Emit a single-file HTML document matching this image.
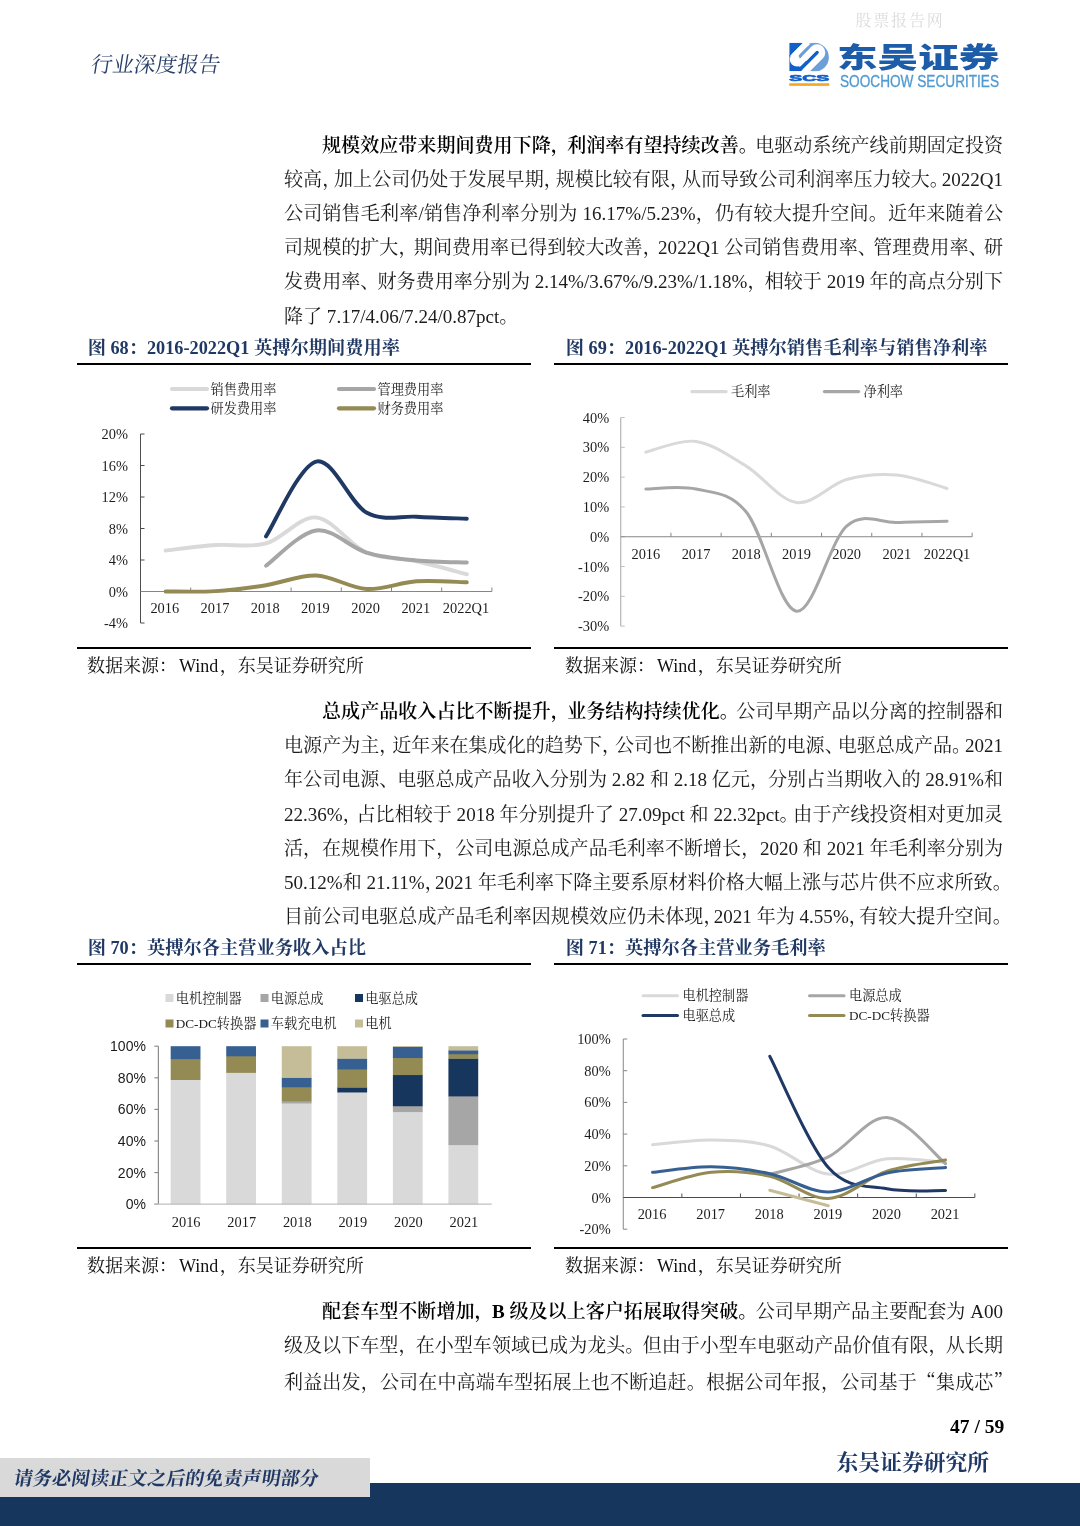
<!DOCTYPE html>
<html lang="zh-CN">
<head>
<meta charset="utf-8">
<title>行业深度报告</title>
<style>
html,body{margin:0;padding:0;background:#fff;}
body{width:1080px;height:1526px;position:relative;overflow:hidden;font-family:"Liberation Serif", "Noto Serif CJK SC", serif;color:#000;}
.abs{position:absolute;white-space:nowrap;}
.ln{position:absolute;height:34px;line-height:34px;font-size:19.06px;text-align:justify;text-align-last:justify;white-space:nowrap;overflow:visible;color:#1c1c1c;}
.ln.lst{text-align:left;text-align-last:left;}
.ln b{font-weight:600;color:#000;}
.pc{letter-spacing:var(--c,0px);}
.q{font-family:"Noto Serif CJK SC",serif;}
.qc{letter-spacing:-0.5em;}
.hdr{font-size:21.6px;line-height:30px;color:#2b416b;transform-origin:0 50%;transform:skewX(-9deg);}
.wm{font-size:16px;line-height:22px;color:#dcdcdc;letter-spacing:1.8px;}
.lgcn{font-family:"Liberation Sans","Noto Sans CJK SC",sans-serif;font-weight:900;font-size:28.6px;line-height:40px;color:#1c5ca8;transform-origin:0 0;transform:scaleX(1.42);}
.lgen{font-family:"Liberation Sans",sans-serif;font-size:15.8px;line-height:16px;color:#4f9ad3;transform-origin:0 0;transform:scaleX(0.863);-webkit-text-stroke:0.3px #4f9ad3;}
.ft{font-size:18.25px;line-height:26px;font-weight:700;color:#1f3864;}
.srcl{font-size:18px;line-height:26px;color:#111;}
.disc{font-size:19.06px;line-height:26px;font-weight:700;color:#1f3864;transform-origin:0 50%;transform:skewX(-9deg);}
.pgn{font-family:"Liberation Serif",serif;font-size:19.5px;line-height:24px;font-weight:700;color:#000;}
.inst{font-size:21.8px;line-height:30px;font-weight:700;color:#1f3864;}
</style>
</head>
<body>
<div id="L0" class="ln" style="left:322px;top:129px;width:681px;--c:-2.64px;"><b>规模效应带来期间费用下降<span class="pc">，</span>利润率有望持续改善<span class="pc">。</span></b>电驱动系统产线前期固定投资</div>
<div id="L1" class="ln" style="left:284px;top:163.1px;width:719px;--c:-7.17px;">较高<span class="pc">，</span>加上公司仍处于发展早期<span class="pc">，</span>规模比较有限<span class="pc">，</span>从而导致公司利润率压力较大<span class="pc">。</span>2022Q1</div>
<div id="L2" class="ln" style="left:284px;top:197.2px;width:719px;">公司销售毛利率/销售净利率分别为 16.17%/5.23%<span class="pc">，</span>仍有较大提升空间<span class="pc">。</span>近年来随着公</div>
<div id="L3" class="ln" style="left:284px;top:231.3px;width:719px;--c:-3.60px;">司规模的扩大<span class="pc">，</span>期间费用率已得到较大改善<span class="pc">，</span>2022Q1 公司销售费用率<span class="pc">、</span>管理费用率<span class="pc">、</span>研</div>
<div id="L4" class="ln" style="left:284px;top:265.4px;width:719px;--c:-1.89px;">发费用率<span class="pc">、</span>财务费用率分别为 2.14%/3.67%/9.23%/1.18%<span class="pc">，</span>相较于 2019 年的高点分别下</div>
<div id="L5" class="ln lst" style="left:284px;top:299.5px;width:719px;">降了 7.17/4.06/7.24/0.87pct<span class="pc">。</span></div>
<div id="L6" class="ln" style="left:322px;top:695px;width:681px;--c:-2.64px;"><b>总成产品收入占比不断提升<span class="pc">，</span>业务结构持续优化<span class="pc">。</span></b>公司早期产品以分离的控制器和</div>
<div id="L7" class="ln" style="left:284px;top:729.2px;width:719px;--c:-6.11px;">电源产为主<span class="pc">，</span>近年来在集成化的趋势下<span class="pc">，</span>公司也不断推出新的电源<span class="pc">、</span>电驱总成产品<span class="pc">。</span>2021</div>
<div id="L8" class="ln" style="left:284px;top:763.4px;width:719px;--c:-1.10px;">年公司电源<span class="pc">、</span>电驱总成产品收入分别为 2.82 和 2.18 亿元<span class="pc">，</span>分别占当期收入的 28.91%和</div>
<div id="L9" class="ln" style="left:284px;top:797.6px;width:719px;--c:-5.33px;">22.36%<span class="pc">，</span>占比相较于 2018 年分别提升了 27.09pct 和 22.32pct<span class="pc">。</span>由于产线投资相对更加灵</div>
<div id="L10" class="ln" style="left:284px;top:831.8px;width:719px;--c:-0.21px;">活<span class="pc">，</span>在规模作用下<span class="pc">，</span>公司电源总成产品毛利率不断增长<span class="pc">，</span>2020 和 2021 年毛利率分别为</div>
<div id="L11" class="ln" style="left:284px;top:866px;width:719px;--c:-8.68px;">50.12%和 21.11%<span class="pc">，</span>2021 年毛利率下降主要系原材料价格大幅上涨与芯片供不应求所致<span class="pc">。</span></div>
<div id="L12" class="ln" style="left:284px;top:900.2px;width:719px;--c:-8.67px;">目前公司电驱总成产品毛利率因规模效应仍未体现<span class="pc">，</span>2021 年为 4.55%<span class="pc">，</span>有较大提升空间<span class="pc">。</span></div>
<div id="L13" class="ln" style="left:322px;top:1295.2px;width:681px;--c:-1.60px;"><b>配套车型不断增加<span class="pc">，</span>B 级及以上客户拓展取得突破<span class="pc">。</span></b>公司早期产品主要配套为 A00</div>
<div id="L14" class="ln" style="left:284px;top:1329.4px;width:719px;--c:-1.79px;">级及以下车型<span class="pc">，</span>在小型车领域已成为龙头<span class="pc">。</span>但由于小型车电驱动产品价值有限<span class="pc">，</span>从长期</div>
<div id="L15" class="ln" style="left:284px;top:1363.6px;width:719px;">利益出发<span class="pc">，</span>公司在中高端车型拓展上也不断追赶<span class="pc">。</span>根据公司年报<span class="pc">，</span>公司基于<span class="q">“</span>集成芯<span class="q qc">”</span></div>
<div class="abs hdr" style="left:91px;top:49.5px;">行业深度报告</div>
<div class="abs wm" style="left:855.5px;top:10px;">股票报告网</div>
<svg class="abs" style="left:784px;top:38px;" width="54" height="54" viewBox="0 0 1080 1080">
<defs><clipPath id="lc"><rect x="105" y="95" width="800" height="570"/></clipPath></defs>
<g clip-path="url(#lc)">
<circle cx="605" cy="385" r="292" fill="#6c9fd7"/>
<polygon points="105,95 385,95 105,375" fill="#1160c9"/>
<polygon points="105,330 105,665 340,665 760,245 700,195 315,580" fill="#1160c9"/>
<path d="M475,85 L199,361 A89.1,89.1 0 0 0 325,487 L592,220" fill="none" stroke="#fff" stroke-width="118"/>
<path d="M400,412 L592,220 A99,99 0 0 1 732,360 L417,675" fill="none" stroke="#fff" stroke-width="131"/>
<line x1="322" y1="360" x2="480" y2="202" stroke="#6c9fd7" stroke-width="57" stroke-linecap="round"/>
</g>
<text x="105" y="860" font-family='"Liberation Sans",sans-serif' font-weight="700" font-size="196" fill="#1160c9" stroke="#1160c9" stroke-width="14" textLength="800" lengthAdjust="spacingAndGlyphs">SCS</text>
<rect x="105" y="905" width="800" height="52" fill="#f5a623"/>
</svg>
<div class="abs lgcn" style="left:837px;top:38px;">东吴证券</div>
<div class="abs lgen" style="left:839.5px;top:74px;">SOOCHOW SECURITIES</div>
<div class="abs ft" style="left:87.7px;top:335px;">图 68：2016-2022Q1 英搏尔期间费用率</div>
<div class="abs ft" style="left:565.8px;top:335px;">图 69：2016-2022Q1 英搏尔销售毛利率与销售净利率</div>
<div class="abs" style="left:77px;top:362.7px;width:453.6px;height:1.9px;background:#000;"></div>
<div class="abs" style="left:554.4px;top:362.7px;width:453.6px;height:1.9px;background:#000;"></div>
<div class="abs" style="left:77px;top:647.25px;width:453.6px;height:1.9px;background:#000;"></div>
<div class="abs" style="left:554.4px;top:647.25px;width:453.6px;height:1.9px;background:#000;"></div>
<div class="abs srcl" style="left:87px;top:652.6px;">数据来源：<span style="margin:0 1.5px 0 2px">Wind</span>，东吴证券研究所</div>
<div class="abs srcl" style="left:565px;top:652.6px;">数据来源：<span style="margin:0 1.5px 0 2px">Wind</span>，东吴证券研究所</div>
<div class="abs ft" style="left:87.7px;top:935px;">图 70：英搏尔各主营业务收入占比</div>
<div class="abs ft" style="left:565.8px;top:935px;">图 71：英搏尔各主营业务毛利率</div>
<div class="abs" style="left:77px;top:962.7px;width:453.6px;height:1.9px;background:#000;"></div>
<div class="abs" style="left:554.4px;top:962.7px;width:453.6px;height:1.9px;background:#000;"></div>
<div class="abs" style="left:77px;top:1247.25px;width:453.6px;height:1.9px;background:#000;"></div>
<div class="abs" style="left:554.4px;top:1247.25px;width:453.6px;height:1.9px;background:#000;"></div>
<div class="abs srcl" style="left:87px;top:1252.6px;">数据来源：<span style="margin:0 1.5px 0 2px">Wind</span>，东吴证券研究所</div>
<div class="abs srcl" style="left:565px;top:1252.6px;">数据来源：<span style="margin:0 1.5px 0 2px">Wind</span>，东吴证券研究所</div>
<div class="abs" style="left:0;top:1482.5px;width:1080px;height:44px;background:#17365d;"></div>
<div class="abs" style="left:0;top:1457.5px;width:370px;height:39.5px;background:#d9d9d9;"></div>
<div class="abs disc" style="left:14px;top:1466px;">请务必阅读正文之后的免责声明部分</div>
<div class="abs pgn" style="left:950px;top:1415px;">47 / 59</div>
<div class="abs inst" style="left:836.5px;top:1448.3px;">东吴证券研究所</div>
<svg class="abs" style="left:0;top:0;" width="1080" height="1526" viewBox="0 0 1080 1526">
<line x1="140.50" y1="434.00" x2="140.50" y2="623.00" stroke="#4d4d4d" stroke-width="1"/>
<line x1="140.50" y1="623.00" x2="144.50" y2="623.00" stroke="#4d4d4d" stroke-width="1"/>
<text x="128.00" y="628.00" font-size="14.4" text-anchor="end" fill="#1c1c1c" style='font-family:"Liberation Serif","Noto Serif CJK SC",serif' >-4%</text>
<line x1="140.50" y1="591.50" x2="144.50" y2="591.50" stroke="#4d4d4d" stroke-width="1"/>
<text x="128.00" y="596.50" font-size="14.4" text-anchor="end" fill="#1c1c1c" style='font-family:"Liberation Serif","Noto Serif CJK SC",serif' >0%</text>
<line x1="140.50" y1="560.00" x2="144.50" y2="560.00" stroke="#4d4d4d" stroke-width="1"/>
<text x="128.00" y="565.00" font-size="14.4" text-anchor="end" fill="#1c1c1c" style='font-family:"Liberation Serif","Noto Serif CJK SC",serif' >4%</text>
<line x1="140.50" y1="528.50" x2="144.50" y2="528.50" stroke="#4d4d4d" stroke-width="1"/>
<text x="128.00" y="533.50" font-size="14.4" text-anchor="end" fill="#1c1c1c" style='font-family:"Liberation Serif","Noto Serif CJK SC",serif' >8%</text>
<line x1="140.50" y1="497.00" x2="144.50" y2="497.00" stroke="#4d4d4d" stroke-width="1"/>
<text x="128.00" y="502.00" font-size="14.4" text-anchor="end" fill="#1c1c1c" style='font-family:"Liberation Serif","Noto Serif CJK SC",serif' >12%</text>
<line x1="140.50" y1="465.50" x2="144.50" y2="465.50" stroke="#4d4d4d" stroke-width="1"/>
<text x="128.00" y="470.50" font-size="14.4" text-anchor="end" fill="#1c1c1c" style='font-family:"Liberation Serif","Noto Serif CJK SC",serif' >16%</text>
<line x1="140.50" y1="434.00" x2="144.50" y2="434.00" stroke="#4d4d4d" stroke-width="1"/>
<text x="128.00" y="439.00" font-size="14.4" text-anchor="end" fill="#1c1c1c" style='font-family:"Liberation Serif","Noto Serif CJK SC",serif' >20%</text>
<line x1="140.50" y1="591.50" x2="491.90" y2="591.50" stroke="#868686" stroke-width="1"/>
<line x1="190.70" y1="587.50" x2="190.70" y2="591.50" stroke="#868686" stroke-width="1"/>
<line x1="240.90" y1="587.50" x2="240.90" y2="591.50" stroke="#868686" stroke-width="1"/>
<line x1="291.10" y1="587.50" x2="291.10" y2="591.50" stroke="#868686" stroke-width="1"/>
<line x1="341.30" y1="587.50" x2="341.30" y2="591.50" stroke="#868686" stroke-width="1"/>
<line x1="391.50" y1="587.50" x2="391.50" y2="591.50" stroke="#868686" stroke-width="1"/>
<line x1="441.70" y1="587.50" x2="441.70" y2="591.50" stroke="#868686" stroke-width="1"/>
<line x1="491.90" y1="587.50" x2="491.90" y2="591.50" stroke="#868686" stroke-width="1"/>
<text x="164.80" y="613.00" font-size="14.4" text-anchor="middle" fill="#1c1c1c" style='font-family:"Liberation Serif","Noto Serif CJK SC",serif' >2016</text>
<text x="215.00" y="613.00" font-size="14.4" text-anchor="middle" fill="#1c1c1c" style='font-family:"Liberation Serif","Noto Serif CJK SC",serif' >2017</text>
<text x="265.20" y="613.00" font-size="14.4" text-anchor="middle" fill="#1c1c1c" style='font-family:"Liberation Serif","Noto Serif CJK SC",serif' >2018</text>
<text x="315.40" y="613.00" font-size="14.4" text-anchor="middle" fill="#1c1c1c" style='font-family:"Liberation Serif","Noto Serif CJK SC",serif' >2019</text>
<text x="365.60" y="613.00" font-size="14.4" text-anchor="middle" fill="#1c1c1c" style='font-family:"Liberation Serif","Noto Serif CJK SC",serif' >2020</text>
<text x="415.80" y="613.00" font-size="14.4" text-anchor="middle" fill="#1c1c1c" style='font-family:"Liberation Serif","Noto Serif CJK SC",serif' >2021</text>
<text x="466.00" y="613.00" font-size="14.4" text-anchor="middle" fill="#1c1c1c" style='font-family:"Liberation Serif","Noto Serif CJK SC",serif' >2022Q1</text>
<path d="M165.60,550.55 C173.97,549.63 199.07,546.22 215.80,545.04 C232.53,543.86 249.27,548.06 266.00,543.46 C282.73,538.87 299.47,515.97 316.20,517.48 C332.93,518.98 349.67,545.22 366.40,552.52 C383.13,559.82 399.87,557.64 416.60,561.26 C433.33,564.88 458.43,572.09 466.80,574.25" fill="none" stroke="#d9d9d9" stroke-width="3.9" stroke-linecap="round" stroke-linejoin="round"/>
<path d="M266.00,565.75 C274.37,559.87 299.47,532.67 316.20,530.47 C332.93,528.26 349.67,547.52 366.40,552.52 C383.13,557.52 399.87,558.81 416.60,560.47 C433.33,562.14 458.43,562.18 466.80,562.52" fill="none" stroke="#a6a6a6" stroke-width="3.9" stroke-linecap="round" stroke-linejoin="round"/>
<path d="M266.00,536.38 C274.37,523.91 299.47,465.54 316.20,461.56 C332.93,457.59 349.67,503.31 366.40,512.51 C383.13,521.71 399.87,515.73 416.60,516.77 C433.33,517.80 458.43,518.41 466.80,518.74" fill="none" stroke="#1f3864" stroke-width="3.9" stroke-linecap="round" stroke-linejoin="round"/>
<path d="M165.60,591.50 C173.97,591.43 199.07,592.16 215.80,591.11 C232.53,590.06 249.27,587.80 266.00,585.20 C282.73,582.60 299.47,574.88 316.20,575.51 C332.93,576.14 349.67,588.02 366.40,588.98 C383.13,589.94 399.87,582.38 416.60,581.26 C433.33,580.15 458.43,582.12 466.80,582.29" fill="none" stroke="#948a54" stroke-width="3.9" stroke-linecap="round" stroke-linejoin="round"/>
<line x1="172.00" y1="389.00" x2="207.00" y2="389.00" stroke="#d9d9d9" stroke-width="4.2" stroke-linecap="round"/>
<text x="210.50" y="393.60" font-size="13.2" text-anchor="start" fill="#1c1c1c" style='font-family:"Liberation Serif","Noto Serif CJK SC",serif' >销售费用率</text>
<line x1="339.00" y1="389.00" x2="374.00" y2="389.00" stroke="#a6a6a6" stroke-width="4.2" stroke-linecap="round"/>
<text x="377.50" y="393.60" font-size="13.2" text-anchor="start" fill="#1c1c1c" style='font-family:"Liberation Serif","Noto Serif CJK SC",serif' >管理费用率</text>
<line x1="172.00" y1="408.30" x2="207.00" y2="408.30" stroke="#1f3864" stroke-width="4.2" stroke-linecap="round"/>
<text x="210.50" y="412.90" font-size="13.2" text-anchor="start" fill="#1c1c1c" style='font-family:"Liberation Serif","Noto Serif CJK SC",serif' >研发费用率</text>
<line x1="339.00" y1="408.30" x2="374.00" y2="408.30" stroke="#948a54" stroke-width="4.2" stroke-linecap="round"/>
<text x="377.50" y="412.90" font-size="13.2" text-anchor="start" fill="#1c1c1c" style='font-family:"Liberation Serif","Noto Serif CJK SC",serif' >财务费用率</text>
<line x1="620.75" y1="417.55" x2="620.75" y2="626.15" stroke="#a6a6a6" stroke-width="1"/>
<line x1="620.75" y1="626.15" x2="624.75" y2="626.15" stroke="#bfbfbf" stroke-width="1"/>
<text x="609.25" y="631.15" font-size="14.4" text-anchor="end" fill="#1c1c1c" style='font-family:"Liberation Serif","Noto Serif CJK SC",serif' >-30%</text>
<line x1="620.75" y1="596.35" x2="624.75" y2="596.35" stroke="#bfbfbf" stroke-width="1"/>
<text x="609.25" y="601.35" font-size="14.4" text-anchor="end" fill="#1c1c1c" style='font-family:"Liberation Serif","Noto Serif CJK SC",serif' >-20%</text>
<line x1="620.75" y1="566.55" x2="624.75" y2="566.55" stroke="#bfbfbf" stroke-width="1"/>
<text x="609.25" y="571.55" font-size="14.4" text-anchor="end" fill="#1c1c1c" style='font-family:"Liberation Serif","Noto Serif CJK SC",serif' >-10%</text>
<line x1="620.75" y1="536.75" x2="624.75" y2="536.75" stroke="#bfbfbf" stroke-width="1"/>
<text x="609.25" y="541.75" font-size="14.4" text-anchor="end" fill="#1c1c1c" style='font-family:"Liberation Serif","Noto Serif CJK SC",serif' >0%</text>
<line x1="620.75" y1="506.95" x2="624.75" y2="506.95" stroke="#bfbfbf" stroke-width="1"/>
<text x="609.25" y="511.95" font-size="14.4" text-anchor="end" fill="#1c1c1c" style='font-family:"Liberation Serif","Noto Serif CJK SC",serif' >10%</text>
<line x1="620.75" y1="477.15" x2="624.75" y2="477.15" stroke="#bfbfbf" stroke-width="1"/>
<text x="609.25" y="482.15" font-size="14.4" text-anchor="end" fill="#1c1c1c" style='font-family:"Liberation Serif","Noto Serif CJK SC",serif' >20%</text>
<line x1="620.75" y1="447.35" x2="624.75" y2="447.35" stroke="#bfbfbf" stroke-width="1"/>
<text x="609.25" y="452.35" font-size="14.4" text-anchor="end" fill="#1c1c1c" style='font-family:"Liberation Serif","Noto Serif CJK SC",serif' >30%</text>
<line x1="620.75" y1="417.55" x2="624.75" y2="417.55" stroke="#bfbfbf" stroke-width="1"/>
<text x="609.25" y="422.55" font-size="14.4" text-anchor="end" fill="#1c1c1c" style='font-family:"Liberation Serif","Noto Serif CJK SC",serif' >40%</text>
<line x1="620.75" y1="536.75" x2="972.15" y2="536.75" stroke="#868686" stroke-width="1"/>
<line x1="670.95" y1="532.75" x2="670.95" y2="536.75" stroke="#868686" stroke-width="1"/>
<line x1="721.15" y1="532.75" x2="721.15" y2="536.75" stroke="#868686" stroke-width="1"/>
<line x1="771.35" y1="532.75" x2="771.35" y2="536.75" stroke="#868686" stroke-width="1"/>
<line x1="821.55" y1="532.75" x2="821.55" y2="536.75" stroke="#868686" stroke-width="1"/>
<line x1="871.75" y1="532.75" x2="871.75" y2="536.75" stroke="#868686" stroke-width="1"/>
<line x1="921.95" y1="532.75" x2="921.95" y2="536.75" stroke="#868686" stroke-width="1"/>
<line x1="972.15" y1="532.75" x2="972.15" y2="536.75" stroke="#868686" stroke-width="1"/>
<text x="645.85" y="559.25" font-size="14.4" text-anchor="middle" fill="#1c1c1c" style='font-family:"Liberation Serif","Noto Serif CJK SC",serif' >2016</text>
<text x="696.05" y="559.25" font-size="14.4" text-anchor="middle" fill="#1c1c1c" style='font-family:"Liberation Serif","Noto Serif CJK SC",serif' >2017</text>
<text x="746.25" y="559.25" font-size="14.4" text-anchor="middle" fill="#1c1c1c" style='font-family:"Liberation Serif","Noto Serif CJK SC",serif' >2018</text>
<text x="796.45" y="559.25" font-size="14.4" text-anchor="middle" fill="#1c1c1c" style='font-family:"Liberation Serif","Noto Serif CJK SC",serif' >2019</text>
<text x="846.65" y="559.25" font-size="14.4" text-anchor="middle" fill="#1c1c1c" style='font-family:"Liberation Serif","Noto Serif CJK SC",serif' >2020</text>
<text x="896.85" y="559.25" font-size="14.4" text-anchor="middle" fill="#1c1c1c" style='font-family:"Liberation Serif","Noto Serif CJK SC",serif' >2021</text>
<text x="947.05" y="559.25" font-size="14.4" text-anchor="middle" fill="#1c1c1c" style='font-family:"Liberation Serif","Noto Serif CJK SC",serif' >2022Q1</text>
<path d="M645.85,452.12 C654.22,450.33 679.32,439.06 696.05,441.39 C712.78,443.72 729.52,455.94 746.25,466.12 C762.98,476.31 779.72,500.25 796.45,502.48 C813.18,504.72 829.92,484.10 846.65,479.53 C863.38,474.96 880.12,473.57 896.85,475.06 C913.58,476.55 938.68,486.24 947.05,488.47" fill="none" stroke="#d9d9d9" stroke-width="3" stroke-linecap="round" stroke-linejoin="round"/>
<path d="M645.85,489.07 C654.22,489.07 679.32,485.25 696.05,489.07 C712.78,492.89 729.52,491.65 746.25,512.02 C762.98,532.38 779.72,608.92 796.45,611.25 C813.18,613.58 829.92,540.82 846.65,526.02 C863.38,511.22 880.12,523.24 896.85,522.45 C913.58,521.65 938.68,521.45 947.05,521.25" fill="none" stroke="#a6a6a6" stroke-width="3" stroke-linecap="round" stroke-linejoin="round"/>
<line x1="692.00" y1="391.60" x2="726.00" y2="391.60" stroke="#d9d9d9" stroke-width="3.3" stroke-linecap="round"/>
<text x="731.00" y="396.20" font-size="13.2" text-anchor="start" fill="#1c1c1c" style='font-family:"Liberation Serif","Noto Serif CJK SC",serif' >毛利率</text>
<line x1="824.50" y1="391.60" x2="858.50" y2="391.60" stroke="#a6a6a6" stroke-width="3.3" stroke-linecap="round"/>
<text x="863.50" y="396.20" font-size="13.2" text-anchor="start" fill="#1c1c1c" style='font-family:"Liberation Serif","Noto Serif CJK SC",serif' >净利率</text>
<rect x="170.68" y="1079.70" width="29.80" height="124.80" fill="#d9d9d9"/>
<rect x="170.68" y="1058.84" width="29.80" height="21.16" fill="#948a54"/>
<rect x="170.68" y="1046.20" width="29.80" height="12.94" fill="#376092"/>
<rect x="226.22" y="1072.59" width="29.80" height="131.91" fill="#d9d9d9"/>
<rect x="226.22" y="1056.00" width="29.80" height="16.89" fill="#948a54"/>
<rect x="226.22" y="1046.20" width="29.80" height="10.10" fill="#376092"/>
<rect x="281.77" y="1103.24" width="29.80" height="101.26" fill="#d9d9d9"/>
<rect x="281.77" y="1101.03" width="29.80" height="2.51" fill="#a6a6a6"/>
<rect x="281.77" y="1086.96" width="29.80" height="14.36" fill="#948a54"/>
<rect x="281.77" y="1077.48" width="29.80" height="9.78" fill="#376092"/>
<rect x="281.77" y="1046.20" width="29.80" height="31.58" fill="#c4bd97"/>
<rect x="337.32" y="1092.18" width="29.80" height="112.32" fill="#d9d9d9"/>
<rect x="337.32" y="1087.28" width="29.80" height="5.20" fill="#17365d"/>
<rect x="337.32" y="1069.43" width="29.80" height="18.15" fill="#948a54"/>
<rect x="337.32" y="1058.37" width="29.80" height="11.36" fill="#376092"/>
<rect x="337.32" y="1046.20" width="29.80" height="12.47" fill="#c4bd97"/>
<rect x="392.88" y="1111.77" width="29.80" height="92.73" fill="#d9d9d9"/>
<rect x="392.88" y="1105.92" width="29.80" height="6.15" fill="#a6a6a6"/>
<rect x="392.88" y="1074.80" width="29.80" height="31.43" fill="#17365d"/>
<rect x="392.88" y="1057.73" width="29.80" height="17.36" fill="#948a54"/>
<rect x="392.88" y="1046.67" width="29.80" height="11.36" fill="#376092"/>
<rect x="392.88" y="1046.20" width="29.80" height="0.77" fill="#c4bd97"/>
<rect x="448.42" y="1144.79" width="29.80" height="59.71" fill="#d9d9d9"/>
<rect x="448.42" y="1096.13" width="29.80" height="48.96" fill="#a6a6a6"/>
<rect x="448.42" y="1058.37" width="29.80" height="38.06" fill="#17365d"/>
<rect x="448.42" y="1053.94" width="29.80" height="4.72" fill="#948a54"/>
<rect x="448.42" y="1050.15" width="29.80" height="4.09" fill="#376092"/>
<rect x="448.42" y="1046.20" width="29.80" height="4.25" fill="#c4bd97"/>
<line x1="158.40" y1="1046.20" x2="158.40" y2="1204.20" stroke="#8c8c8c" stroke-width="1.2"/>
<line x1="154.40" y1="1204.20" x2="158.40" y2="1204.20" stroke="#8c8c8c" stroke-width="1.2"/>
<text x="145.90" y="1209.20" font-size="14" text-anchor="end" fill="#1a1a1a" style='font-family:"Liberation Sans","Noto Sans CJK SC",sans-serif' >0%</text>
<line x1="154.40" y1="1172.60" x2="158.40" y2="1172.60" stroke="#8c8c8c" stroke-width="1.2"/>
<text x="145.90" y="1177.60" font-size="14" text-anchor="end" fill="#1a1a1a" style='font-family:"Liberation Sans","Noto Sans CJK SC",sans-serif' >20%</text>
<line x1="154.40" y1="1141.00" x2="158.40" y2="1141.00" stroke="#8c8c8c" stroke-width="1.2"/>
<text x="145.90" y="1146.00" font-size="14" text-anchor="end" fill="#1a1a1a" style='font-family:"Liberation Sans","Noto Sans CJK SC",sans-serif' >40%</text>
<line x1="154.40" y1="1109.40" x2="158.40" y2="1109.40" stroke="#8c8c8c" stroke-width="1.2"/>
<text x="145.90" y="1114.40" font-size="14" text-anchor="end" fill="#1a1a1a" style='font-family:"Liberation Sans","Noto Sans CJK SC",sans-serif' >60%</text>
<line x1="154.40" y1="1077.80" x2="158.40" y2="1077.80" stroke="#8c8c8c" stroke-width="1.2"/>
<text x="145.90" y="1082.80" font-size="14" text-anchor="end" fill="#1a1a1a" style='font-family:"Liberation Sans","Noto Sans CJK SC",sans-serif' >80%</text>
<line x1="154.40" y1="1046.20" x2="158.40" y2="1046.20" stroke="#8c8c8c" stroke-width="1.2"/>
<text x="145.90" y="1051.20" font-size="14" text-anchor="end" fill="#1a1a1a" style='font-family:"Liberation Sans","Noto Sans CJK SC",sans-serif' >100%</text>
<line x1="154.40" y1="1204.20" x2="491.70" y2="1204.20" stroke="#bfbfbf" stroke-width="1.2"/>
<text x="186.18" y="1226.70" font-size="14.4" text-anchor="middle" fill="#1c1c1c" style='font-family:"Liberation Serif","Noto Serif CJK SC",serif' >2016</text>
<text x="241.72" y="1226.70" font-size="14.4" text-anchor="middle" fill="#1c1c1c" style='font-family:"Liberation Serif","Noto Serif CJK SC",serif' >2017</text>
<text x="297.27" y="1226.70" font-size="14.4" text-anchor="middle" fill="#1c1c1c" style='font-family:"Liberation Serif","Noto Serif CJK SC",serif' >2018</text>
<text x="352.82" y="1226.70" font-size="14.4" text-anchor="middle" fill="#1c1c1c" style='font-family:"Liberation Serif","Noto Serif CJK SC",serif' >2019</text>
<text x="408.38" y="1226.70" font-size="14.4" text-anchor="middle" fill="#1c1c1c" style='font-family:"Liberation Serif","Noto Serif CJK SC",serif' >2020</text>
<text x="463.92" y="1226.70" font-size="14.4" text-anchor="middle" fill="#1c1c1c" style='font-family:"Liberation Serif","Noto Serif CJK SC",serif' >2021</text>
<rect x="165.50" y="994.00" width="8" height="8" fill="#d9d9d9"/>
<text x="175.80" y="1002.60" font-size="13.2" text-anchor="start" fill="#1c1c1c" style='font-family:"Liberation Serif","Noto Serif CJK SC",serif' >电机控制器</text>
<rect x="260.50" y="994.00" width="8" height="8" fill="#a6a6a6"/>
<text x="270.80" y="1002.60" font-size="13.2" text-anchor="start" fill="#1c1c1c" style='font-family:"Liberation Serif","Noto Serif CJK SC",serif' >电源总成</text>
<rect x="355.00" y="994.00" width="8" height="8" fill="#17365d"/>
<text x="365.30" y="1002.60" font-size="13.2" text-anchor="start" fill="#1c1c1c" style='font-family:"Liberation Serif","Noto Serif CJK SC",serif' >电驱总成</text>
<rect x="165.50" y="1019.50" width="8" height="8" fill="#948a54"/>
<text x="175.80" y="1028.10" font-size="13.2" text-anchor="start" fill="#1c1c1c" style='font-family:"Liberation Serif","Noto Serif CJK SC",serif' >DC-DC转换器</text>
<rect x="260.50" y="1019.50" width="8" height="8" fill="#376092"/>
<text x="270.80" y="1028.10" font-size="13.2" text-anchor="start" fill="#1c1c1c" style='font-family:"Liberation Serif","Noto Serif CJK SC",serif' >车载充电机</text>
<rect x="355.00" y="1019.50" width="8" height="8" fill="#c4bd97"/>
<text x="365.30" y="1028.10" font-size="13.2" text-anchor="start" fill="#1c1c1c" style='font-family:"Liberation Serif","Noto Serif CJK SC",serif' >电机</text>
<line x1="623.25" y1="1039.00" x2="623.25" y2="1229.20" stroke="#868686" stroke-width="1"/>
<line x1="623.25" y1="1229.20" x2="627.25" y2="1229.20" stroke="#868686" stroke-width="1"/>
<text x="610.75" y="1234.20" font-size="14.4" text-anchor="end" fill="#1c1c1c" style='font-family:"Liberation Serif","Noto Serif CJK SC",serif' >-20%</text>
<line x1="623.25" y1="1197.50" x2="627.25" y2="1197.50" stroke="#868686" stroke-width="1"/>
<text x="610.75" y="1202.50" font-size="14.4" text-anchor="end" fill="#1c1c1c" style='font-family:"Liberation Serif","Noto Serif CJK SC",serif' >0%</text>
<line x1="623.25" y1="1165.80" x2="627.25" y2="1165.80" stroke="#868686" stroke-width="1"/>
<text x="610.75" y="1170.80" font-size="14.4" text-anchor="end" fill="#1c1c1c" style='font-family:"Liberation Serif","Noto Serif CJK SC",serif' >20%</text>
<line x1="623.25" y1="1134.10" x2="627.25" y2="1134.10" stroke="#868686" stroke-width="1"/>
<text x="610.75" y="1139.10" font-size="14.4" text-anchor="end" fill="#1c1c1c" style='font-family:"Liberation Serif","Noto Serif CJK SC",serif' >40%</text>
<line x1="623.25" y1="1102.40" x2="627.25" y2="1102.40" stroke="#868686" stroke-width="1"/>
<text x="610.75" y="1107.40" font-size="14.4" text-anchor="end" fill="#1c1c1c" style='font-family:"Liberation Serif","Noto Serif CJK SC",serif' >60%</text>
<line x1="623.25" y1="1070.70" x2="627.25" y2="1070.70" stroke="#868686" stroke-width="1"/>
<text x="610.75" y="1075.70" font-size="14.4" text-anchor="end" fill="#1c1c1c" style='font-family:"Liberation Serif","Noto Serif CJK SC",serif' >80%</text>
<line x1="623.25" y1="1039.00" x2="627.25" y2="1039.00" stroke="#868686" stroke-width="1"/>
<text x="610.75" y="1044.00" font-size="14.4" text-anchor="end" fill="#1c1c1c" style='font-family:"Liberation Serif","Noto Serif CJK SC",serif' >100%</text>
<line x1="623.25" y1="1197.50" x2="974.85" y2="1197.50" stroke="#4d4d4d" stroke-width="1"/>
<line x1="681.85" y1="1193.50" x2="681.85" y2="1197.50" stroke="#4d4d4d" stroke-width="1"/>
<line x1="740.45" y1="1193.50" x2="740.45" y2="1197.50" stroke="#4d4d4d" stroke-width="1"/>
<line x1="799.05" y1="1193.50" x2="799.05" y2="1197.50" stroke="#4d4d4d" stroke-width="1"/>
<line x1="857.65" y1="1193.50" x2="857.65" y2="1197.50" stroke="#4d4d4d" stroke-width="1"/>
<line x1="916.25" y1="1193.50" x2="916.25" y2="1197.50" stroke="#4d4d4d" stroke-width="1"/>
<line x1="974.85" y1="1193.50" x2="974.85" y2="1197.50" stroke="#4d4d4d" stroke-width="1"/>
<text x="652.05" y="1219.20" font-size="14.4" text-anchor="middle" fill="#1c1c1c" style='font-family:"Liberation Serif","Noto Serif CJK SC",serif' >2016</text>
<text x="710.65" y="1219.20" font-size="14.4" text-anchor="middle" fill="#1c1c1c" style='font-family:"Liberation Serif","Noto Serif CJK SC",serif' >2017</text>
<text x="769.25" y="1219.20" font-size="14.4" text-anchor="middle" fill="#1c1c1c" style='font-family:"Liberation Serif","Noto Serif CJK SC",serif' >2018</text>
<text x="827.85" y="1219.20" font-size="14.4" text-anchor="middle" fill="#1c1c1c" style='font-family:"Liberation Serif","Noto Serif CJK SC",serif' >2019</text>
<text x="886.45" y="1219.20" font-size="14.4" text-anchor="middle" fill="#1c1c1c" style='font-family:"Liberation Serif","Noto Serif CJK SC",serif' >2020</text>
<text x="945.05" y="1219.20" font-size="14.4" text-anchor="middle" fill="#1c1c1c" style='font-family:"Liberation Serif","Noto Serif CJK SC",serif' >2021</text>
<path d="M652.55,1144.72 C662.32,1143.93 691.62,1139.75 711.15,1139.96 C730.68,1140.18 750.22,1140.31 769.75,1145.99 C789.28,1151.67 808.82,1171.90 828.35,1174.04 C847.88,1176.18 867.42,1160.75 886.95,1158.83 C906.48,1156.90 935.78,1161.86 945.55,1162.47" fill="none" stroke="#d9d9d9" stroke-width="3" stroke-linecap="round" stroke-linejoin="round"/>
<path d="M769.75,1174.20 C779.52,1171.32 808.82,1166.38 828.35,1156.92 C847.88,1147.47 867.42,1116.32 886.95,1117.46 C906.48,1118.59 935.78,1156.03 945.55,1163.74" fill="none" stroke="#a6a6a6" stroke-width="3" stroke-linecap="round" stroke-linejoin="round"/>
<path d="M769.75,1056.28 C779.52,1074.82 808.82,1145.46 828.35,1167.54 C847.88,1189.63 867.42,1184.95 886.95,1188.78 C906.48,1192.61 935.78,1190.24 945.55,1190.53" fill="none" stroke="#1f3864" stroke-width="3" stroke-linecap="round" stroke-linejoin="round"/>
<path d="M652.55,1187.67 C662.32,1185.11 691.62,1174.20 711.15,1172.30 C730.68,1170.40 750.22,1171.90 769.75,1176.26 C789.28,1180.62 808.82,1199.30 828.35,1198.45 C847.88,1197.61 867.42,1177.61 886.95,1171.19 C906.48,1164.77 935.78,1161.81 945.55,1159.94" fill="none" stroke="#948a54" stroke-width="3" stroke-linecap="round" stroke-linejoin="round"/>
<path d="M652.55,1172.30 C662.32,1171.37 691.62,1166.51 711.15,1166.75 C730.68,1166.99 750.22,1169.52 769.75,1173.72 C789.28,1177.93 808.82,1192.08 828.35,1191.95 C847.88,1191.82 867.42,1177.00 886.95,1172.93 C906.48,1168.86 935.78,1168.44 945.55,1167.54" fill="none" stroke="#376092" stroke-width="3" stroke-linecap="round" stroke-linejoin="round"/>
<line x1="769.75" y1="1190.21" x2="828.35" y2="1205.74" stroke="#c4bd97" stroke-width="3.0" stroke-linecap="round"/>
<line x1="643.00" y1="995.70" x2="677.50" y2="995.70" stroke="#d9d9d9" stroke-width="3" stroke-linecap="round"/>
<text x="682.50" y="1000.30" font-size="13.2" text-anchor="start" fill="#1c1c1c" style='font-family:"Liberation Serif","Noto Serif CJK SC",serif' >电机控制器</text>
<line x1="809.50" y1="995.70" x2="844.00" y2="995.70" stroke="#a6a6a6" stroke-width="3" stroke-linecap="round"/>
<text x="849.00" y="1000.30" font-size="13.2" text-anchor="start" fill="#1c1c1c" style='font-family:"Liberation Serif","Noto Serif CJK SC",serif' >电源总成</text>
<line x1="643.00" y1="1015.60" x2="677.50" y2="1015.60" stroke="#1f3864" stroke-width="3" stroke-linecap="round"/>
<text x="682.50" y="1020.20" font-size="13.2" text-anchor="start" fill="#1c1c1c" style='font-family:"Liberation Serif","Noto Serif CJK SC",serif' >电驱总成</text>
<line x1="809.50" y1="1015.60" x2="844.00" y2="1015.60" stroke="#948a54" stroke-width="3" stroke-linecap="round"/>
<text x="849.00" y="1020.20" font-size="13.2" text-anchor="start" fill="#1c1c1c" style='font-family:"Liberation Serif","Noto Serif CJK SC",serif' >DC-DC转换器</text>
</svg>
</body>
</html>
